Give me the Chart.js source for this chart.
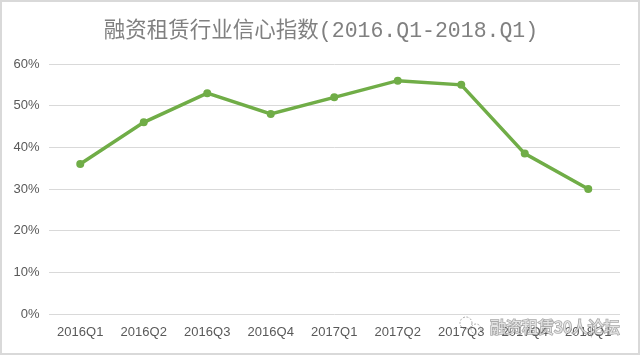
<!DOCTYPE html>
<html>
<head>
<meta charset="utf-8">
<script src="https://cdn.jsdelivr.net/npm/chart.js@4.4.0/dist/chart.umd.min.js"></script>
<style>
  html, body { margin: 0; padding: 0; background: #ffffff; }
  #wrap { width: 640px; height: 355px; position: relative; }
</style>
</head>
<body>
<div id="wrap"><canvas id="c" width="640" height="355"></canvas></div>
<script>
const titleText = '融资租赁行业信心指数(2016.Q1-2018.Q1)';
const categories = ['2016Q1','2016Q2','2016Q3','2016Q4','2017Q1','2017Q2','2017Q3','2017Q4','2018Q1'];
const confidenceIndex = [0.36, 0.46, 0.53, 0.48, 0.52, 0.56, 0.55, 0.385, 0.30];
const yTicks = [0, 0.1, 0.2, 0.3, 0.4, 0.5, 0.6];
const watermark = '融资租赁30人论坛';

const framePlugin = {
  id: 'frame',
  beforeDraw(chart) {
    const ctx = chart.ctx;
    ctx.save();
    ctx.fillStyle = '#ffffff';
    ctx.fillRect(0, 0, chart.width, chart.height);
    ctx.strokeStyle = '#d9d9d9';
    ctx.lineWidth = 2;
    ctx.strokeRect(1, 1, chart.width - 2, chart.height - 2);
    ctx.font = '21.5px "Liberation Mono", "Noto Sans CJK SC", sans-serif';
    ctx.fillStyle = '#808080';
    ctx.textAlign = 'center';
    ctx.textBaseline = 'middle';
    ctx.fillText(titleText, 321, 31);
    ctx.restore();
  },
  afterDraw(chart) {
    const ctx = chart.ctx;
    ctx.save();
    // small chat-bubble style icon
    ctx.strokeStyle = 'rgba(150,150,150,0.8)';
    ctx.lineWidth = 1;
    ctx.setLineDash([2, 1.5]);
    ctx.beginPath(); ctx.arc(466, 323, 6, 0, Math.PI * 2); ctx.stroke();
    ctx.beginPath(); ctx.arc(476, 329, 5, 0, Math.PI * 2); ctx.stroke();
    ctx.setLineDash([]);
    ctx.font = '16px "Noto Sans CJK SC", sans-serif';
    ctx.textAlign = 'left';
    ctx.textBaseline = 'middle';
    ctx.lineWidth = 1.6;
    ctx.strokeStyle = 'rgba(110,110,110,0.6)';
    ctx.strokeText(watermark, 490, 327);
    ctx.fillStyle = 'rgba(255,255,255,0.7)';
    ctx.fillText(watermark, 490, 327);
    ctx.restore();
  }
};

new Chart(document.getElementById('c'), {
  type: 'line',
  data: {
    labels: categories,
    datasets: [{
      data: confidenceIndex,
      borderColor: '#70ad47',
      backgroundColor: '#70ad47',
      borderWidth: 3.5,
      pointRadius: 4,
      pointBorderWidth: 0,
      pointBackgroundColor: '#70ad47',
      tension: 0,
      fill: false
    }]
  },
  options: {
    responsive: false,
    animation: false,
    layout: { padding: { top: 64, right: 20, bottom: 0, left: 0 } },
    plugins: { legend: { display: false }, title: { display: false }, tooltip: { enabled: false } },
    scales: {
      x: {
        offset: true,
        grid: { display: false, drawTicks: false },
        border: { display: false },
        ticks: { color: '#595959', font: { family: '"Liberation Sans", Arial, sans-serif', size: 13 }, padding: 11, maxRotation: 0, autoSkip: false },
        afterFit(scale) { scale.height = 41; }
      },
      y: {
        min: 0, max: 0.6,
        afterBuildTicks(scale) { scale.ticks = yTicks.map(v => ({ value: v })); },
        grid: { color: '#d9d9d9', lineWidth: 1, drawTicks: false },
        border: { display: false },
        ticks: {
          color: '#595959',
          font: { family: '"Liberation Sans", Arial, sans-serif', size: 13 },
          padding: 9,
          callback: v => Math.round(v * 100) + '%'
        },
        afterFit(scale) { scale.width = 48.5; }
      }
    }
  },
  plugins: [framePlugin]
});
</script>
</body>
</html>
